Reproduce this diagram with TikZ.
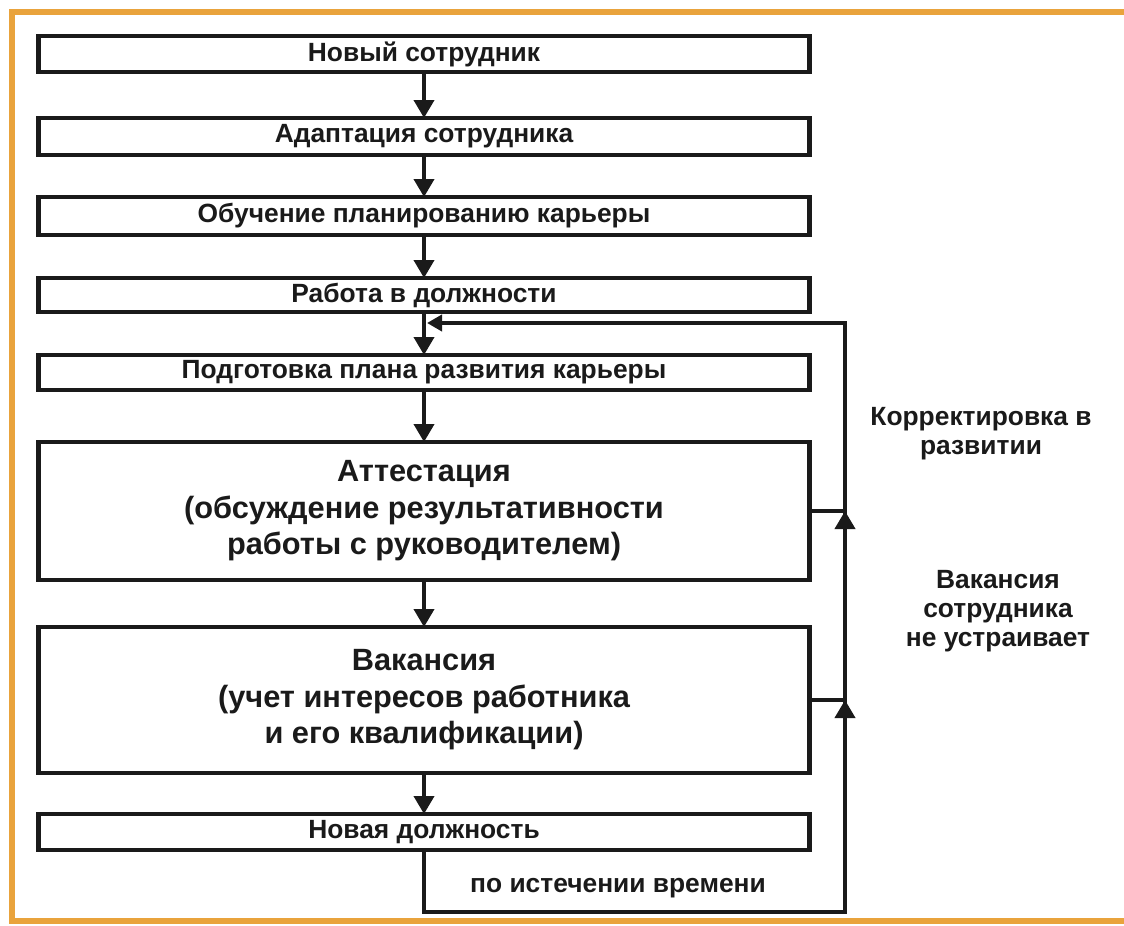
\documentclass[tikz,border=0pt]{standalone}
\usepackage{fontspec}
\setmainfont{Liberation Sans}
\usetikzlibrary{arrows.meta,calc}
\definecolor{frameorange}{HTML}{E9A33C}
\definecolor{ink}{HTML}{1A1A1A}
\begin{document}
\begin{tikzpicture}[x=0.02cm,y=-0.02cm,
  box/.style={draw=ink, line width=2.4pt, inner sep=0pt, outer sep=0pt, minimum width=15.42cm,
    text=ink, font=\bfseries\fontsize{15}{18}\selectfont, align=center},
  bigbox/.style={box, font=\bfseries\fontsize{17.5}{20.8}\selectfont},
  conn/.style={draw=ink, line width=2.2pt},
  arr/.style={conn, -{Triangle[width=0.4cm,length=0.36cm]}},
  backarr/.style={conn, -{Triangle[width=0.32cm,length=0.3cm]}},
  lbl/.style={text=ink, font=\bfseries\fontsize{15}{16.5}\selectfont, align=center, inner sep=0pt}
]
\useasboundingbox (0,0) rectangle (1124,925);
\fill[white] (0,0) rectangle (1124,925);
\draw[frameorange, line width=3.4pt] (1124,12) -- (12,12) -- (12,921) -- (1124,921);

\node[box, minimum height=0.72cm] (b1) at (424,54) {Новый сотрудник};
\node[box, minimum height=0.74cm] (b2) at (424,136.5) {Адаптация сотрудника};
\node[box, minimum height=0.76cm] (b3) at (424,216) {Обучение планированию карьеры};
\node[box, minimum height=0.68cm] (b4) at (424,295) {Работа в должности};
\node[box, minimum height=0.70cm] (b5) at (424,372.5) {Подготовка плана развития карьеры};
\node[bigbox, minimum height=2.76cm] (b6) at (424,511) {Аттестация\\(обсуждение результативности\\работы с руководителем)};
\node[bigbox, minimum height=2.92cm] (b7) at (424,700) {Вакансия\\(учет интересов работника\\и его квалификации)};
\node[box, minimum height=0.72cm] (b8) at (424,832) {Новая должность};

\draw[arr] (b1.south) -- (b2.north);
\draw[arr] (b2.south) -- (b3.north);
\draw[arr] (b3.south) -- (b4.north);
\draw[arr] (b4.south) -- (b5.north);
\draw[arr] (b5.south) -- (b6.north);
\draw[arr] (b6.south) -- (b7.north);
\draw[arr] (b7.south) -- (b8.north);

\coordinate (rt) at (845,323);
\coordinate (rb) at (845,912);
\coordinate (lb) at (b8.south |- rb);
\coordinate (jin) at (427,323);
\draw[backarr] (b8.south) -- (lb) -- (rb) -- (rt) -- (jin);

\coordinate (j6) at (b6.east -| rt);
\coordinate (j7) at (b7.east -| rt);
\draw[conn] (b6.east) -- (j6);
\draw[conn] (b7.east) -- (j7);
\draw[arr] ($(j6)+(0,22)$) -- (j6);
\draw[arr] ($(j7)+(0,22)$) -- (j7);

\node[lbl] (l1) at (981,434) {Корректировка в\\развитии};
\node[lbl] (l2) at (998,611) {Вакансия\\сотрудника\\не устраивает};
\node[lbl] (l3) at (618,888) {по истечении времени};
\end{tikzpicture}
\end{document}
